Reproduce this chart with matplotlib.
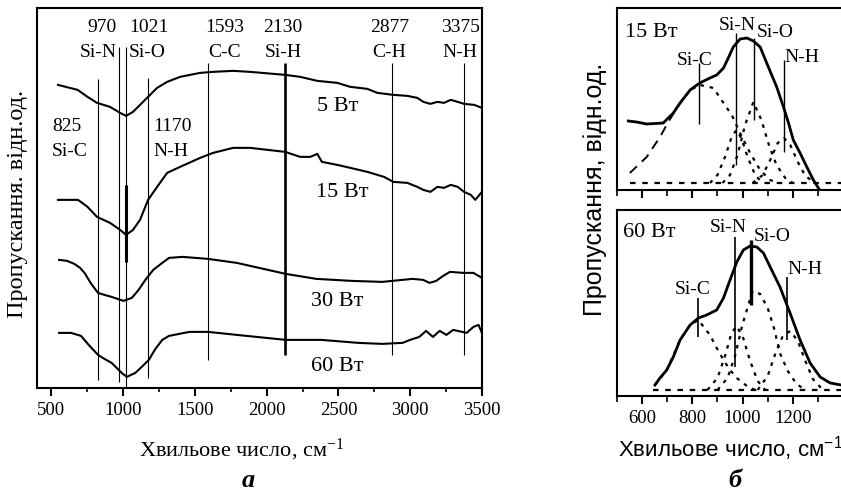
import matplotlib
matplotlib.use("Agg")
import matplotlib.pyplot as plt
from matplotlib.ticker import MultipleLocator

plt.rcParams["font.family"] = ["Liberation Serif", "DejaVu Serif"]
plt.rcParams["mathtext.default"] = "regular"

# ---------- panel a: ИЧ спектри, пропускання (відн. од.)
wn5 = [546, 683, 752, 818, 909, 979, 1021, 1069, 1118, 1174, 1237, 1307, 1397, 1537, 1627,
       1767, 1885, 2129, 2234, 2353, 2492, 2583, 2702, 2771, 2883, 2980, 3050, 3092, 3141,
       3190, 3236, 3283, 3332, 3376, 3446, 3500]
t5 = [3.03, 2.98, 2.91, 2.85, 2.81, 2.75, 2.72, 2.76, 2.83, 2.91, 3.00, 3.06, 3.11, 3.15, 3.16,
      3.17, 3.16, 3.13, 3.11, 3.07, 3.05, 3.01, 2.99, 2.95, 2.93, 2.92, 2.90, 2.86, 2.84,
      2.86, 2.85, 2.88, 2.86, 2.84, 2.83, 2.80]

wn15 = [546, 686, 752, 818, 909, 979, 1021, 1069, 1118, 1174, 1237, 1307, 1397, 1537, 1627,
        1767, 1885, 2129, 2234, 2304, 2353, 2385, 2492, 2583, 2702, 2818, 2883, 2980, 3050,
        3092, 3141, 3190, 3236, 3283, 3332, 3376, 3423, 3454, 3500]
t15 = [1.88, 1.88, 1.81, 1.71, 1.65, 1.58, 1.53, 1.58, 1.68, 1.88, 2.01, 2.15, 2.21, 2.30, 2.35,
       2.40, 2.40, 2.36, 2.31, 2.31, 2.34, 2.26, 2.23, 2.20, 2.16, 2.11, 2.06, 2.05, 2.01,
       1.98, 1.96, 2.01, 2.00, 2.03, 2.01, 1.96, 1.93, 1.88, 1.96]

wn30 = [554, 610, 660, 700, 731, 778, 825, 870, 920, 1002, 1061, 1108, 1155, 1210, 1273, 1320,
        1414, 1591, 1792, 2133, 2346, 2593, 2805, 2876, 3017, 3090, 3135, 3182, 3230, 3277,
        3371, 3441, 3500]
t30 = [1.28, 1.27, 1.24, 1.20, 1.15, 1.04, 0.95, 0.93, 0.91, 0.87, 0.90, 0.98, 1.08, 1.18, 1.25,
       1.30, 1.31, 1.29, 1.25, 1.14, 1.09, 1.07, 1.06, 1.07, 1.09, 1.08, 1.05, 1.07, 1.12, 1.16,
       1.15, 1.15, 1.10]

wn60 = [554, 637, 707, 760, 825, 870, 920, 990, 1026, 1085, 1130, 1179, 1225, 1273, 1320, 1462,
        1591, 1792, 2133, 2381, 2640, 2805, 2947, 3000, 3064, 3111, 3159, 3206, 3253, 3300, 3394,
        3441, 3477, 3500]
t60 = [0.55, 0.55, 0.52, 0.43, 0.33, 0.29, 0.25, 0.15, 0.11, 0.15, 0.21, 0.28, 0.39, 0.48, 0.52,
       0.56, 0.56, 0.53, 0.48, 0.48, 0.45, 0.44, 0.45, 0.48, 0.51, 0.57, 0.51, 0.57, 0.53, 0.58,
       0.55, 0.61, 0.63, 0.55]

power_labels = ["5 Вт", "15 Вт", "30 Вт", "60 Вт"]
power_x = [2492, 2527, 2492, 2492]
power_y = [2.81, 1.95, 0.86, 0.21]

# смуги поглинання
band_wn = [825, 970, 1021, 1170, 1593, 2130, 2877, 3375]
band_top = [3.09, 3.41, 3.41, 3.10, 3.25, 3.25, 3.25, 3.25]
band_bot = [0.08, 0.06, 0.01, 0.10, 0.28, 0.33, 0.33, 0.33]
band_num = ["825", "970", "1021", "1170", "1593", "2130", "2877", "3375"]
band_name = ["Si-C", "Si-N", "Si-O", "N-H", "C-C", "Si-H", "C-H", "N-H"]
band_tx = [505, 955, 1040, 1209, 1705, 2115, 2855, 3350]
band_ty = [2.61, 3.60, 3.60, 2.61, 3.60, 3.60, 3.60, 3.60]
band_ha = ["left", "right", "left", "left", "center", "center", "center", "center"]

# ---------- panel б: розклад смуги 600-1300 см-1
b15_wn = [545, 578, 618, 684, 704, 724, 751, 791, 818, 837, 870, 897, 924, 943, 963, 990, 1017,
          1043, 1070, 1096, 1136, 1163, 1183, 1202, 1229, 1256, 1282, 1302, 1316]
b15 = [0.69, 0.68, 0.66, 0.67, 0.72, 0.77, 0.87, 1.00, 1.05, 1.08, 1.12, 1.15, 1.22, 1.32, 1.43,
       1.51, 1.52, 1.49, 1.43, 1.27, 1.03, 0.83, 0.67, 0.50, 0.37, 0.23, 0.10, 0.02, -0.03]
sic15_wn = [551, 618, 671, 704, 751, 791, 831, 884, 924, 957, 990, 1030, 1070, 1110, 1140]
sic15 = [0.17, 0.33, 0.53, 0.68, 0.87, 1.00, 1.05, 1.02, 0.87, 0.75, 0.57, 0.37, 0.20, 0.10, 0.07]
sin15_wn = [870, 900, 930, 955, 975, 995, 1020, 1050, 1080]
sin15 = [0.07, 0.15, 0.33, 0.52, 0.60, 0.52, 0.33, 0.15, 0.07]
sio15_wn = [920, 950, 980, 1010, 1043, 1075, 1105, 1135, 1170, 1200]
sio15 = [0.07, 0.15, 0.35, 0.65, 0.88, 0.70, 0.45, 0.25, 0.12, 0.07]
nh15_wn = [1040, 1080, 1110, 1140, 1165, 1190, 1220, 1250, 1290]
nh15 = [0.07, 0.15, 0.30, 0.47, 0.52, 0.45, 0.28, 0.14, 0.07]
base15 = 0.07

b60_wn = [651, 671, 698, 724, 751, 791, 824, 857, 897, 924, 950, 977, 1003, 1030, 1057, 1083,
          1110, 1149, 1189, 1229, 1269, 1309, 1349, 1392]
b60 = [0.11, 0.18, 0.26, 0.39, 0.56, 0.71, 0.78, 0.81, 0.86, 0.98, 1.16, 1.34, 1.46, 1.50, 1.49,
       1.43, 1.29, 1.09, 0.83, 0.56, 0.33, 0.19, 0.13, 0.11]
sic60_wn = [651, 698, 751, 791, 824, 870, 897, 924, 950, 977, 1017, 1050]
sic60 = [0.11, 0.26, 0.56, 0.71, 0.76, 0.61, 0.48, 0.36, 0.26, 0.18, 0.10, 0.06]
sin60_wn = [860, 900, 930, 955, 975, 1000, 1030, 1060, 1090]
sin60 = [0.06, 0.18, 0.40, 0.62, 0.70, 0.60, 0.35, 0.15, 0.06]
sio60_wn = [900, 940, 970, 1000, 1040, 1070, 1100, 1125, 1150, 1180, 1215, 1250]
sio60 = [0.06, 0.18, 0.40, 0.72, 1.05, 1.02, 0.88, 0.68, 0.42, 0.25, 0.12, 0.06]
nh60_wn = [1060, 1100, 1130, 1160, 1190, 1220, 1250, 1280, 1320]
nh60 = [0.06, 0.20, 0.42, 0.60, 0.65, 0.55, 0.35, 0.17, 0.06]
base60 = 0.06

fig = plt.figure(figsize=(8.41, 4.91), dpi=100)

# ===== a =====
ax = fig.add_axes([0.044, 0.210, 0.529, 0.774])
for w, t in [(wn5, t5), (wn15, t15), (wn30, t30), (wn60, t60)]:
    ax.plot(w, t, color="black", lw=1.5)
for i in range(len(band_wn)):
    lw = 1.9 if band_num[i] == "2130" else 0.8
    ax.vlines(band_wn[i], band_bot[i], band_top[i], color="black", lw=lw)
    ax.text(band_tx[i], band_ty[i], band_num[i], ha=band_ha[i], va="center", fontsize=14)
    ax.text(band_tx[i], band_ty[i] - 0.25, band_name[i], ha=band_ha[i], va="center", fontsize=14)
# товстий відрізок лінії Si-O
ax.vlines(1021, 1.26, 2.03, color="black", lw=2.2)
for lab, x, y in zip(power_labels, power_x, power_y):
    ax.text(x, y, lab, ha="center", va="center", fontsize=16)

ax.set_xlim(400, 3500)
ax.set_ylim(0, 3.80)
ax.set_yticks([])
ax.xaxis.set_major_locator(MultipleLocator(500))
ax.xaxis.set_minor_locator(MultipleLocator(250))
ax.tick_params(axis="x", which="major", direction="out", length=6, width=1.5, labelsize=13.5, pad=4)
ax.tick_params(axis="x", which="minor", direction="out", length=3, width=1.2)
for s in ax.spines.values():
    s.set_linewidth(1.5)

fig.text(0.021, 0.585, "Пропускання. відн.од.", rotation=90, ha="center", va="center", fontsize=17.5)
fig.text(0.287, 0.07, "Хвильове число, см$^{-1}$", ha="center", va="baseline", fontsize=16)
fig.text(0.295, 0.022, "а", ha="center", va="center", fontsize=19, style="italic", fontweight="bold")

# ===== б =====
ax1 = fig.add_axes([0.7337, 0.6130, 0.2663, 0.3707])
ax2 = fig.add_axes([0.7337, 0.1935, 0.2663, 0.3788])

dot = (0, (1.6, 2.6))
ax1.plot(b15_wn, b15, color="black", lw=2.0)
ax1.plot(sic15_wn[:5], sic15[:5], color="black", lw=1.4, ls=(0, (5, 3.5)))
ax1.plot(sic15_wn[4:], sic15[4:], color="black", lw=1.6, ls=dot)
for w, v in [(sin15_wn, sin15), (sio15_wn, sio15), (nh15_wn, nh15)]:
    ax1.plot(w, v, color="black", lw=1.6, ls=dot)
ax1.axhline(base15, xmin=0.06, color="black", lw=1.6, ls=(0, (2.5, 3)))

ax2.plot(b60_wn, b60, color="black", lw=2.0)
for w, v in [(sic60_wn, sic60), (sin60_wn, sin60), (sio60_wn, sio60), (nh60_wn, nh60)]:
    ax2.plot(w, v, color="black", lw=1.6, ls=dot)
ax2.axhline(base60, xmin=0.16, color="black", lw=1.6, ls=(0, (2.5, 3)))

# лінії та підписи смуг
ax1.vlines([825, 975, 1045, 1163], [0.66, 0.25, 0.70, 0.38], [1.27, 1.57, 1.52, 1.30],
           color="black", lw=1.0)
ax1.text(532, 1.58, "15 Вт", ha="left", va="center", fontsize=16)
ax1.text(811, 1.30, "Si-C", ha="center", va="center", fontsize=14)
ax1.text(978, 1.65, "Si-N", ha="center", va="center", fontsize=14)
ax1.text(1129, 1.58, "Si-O", ha="center", va="center", fontsize=14)
ax1.text(1237, 1.33, "N-H", ha="center", va="center", fontsize=14)

ax2.vlines([823, 970, 1177], [0.59, 0.29, 0.56], [0.98, 1.59, 1.19], color="black", lw=1.2)
ax2.vlines(1034, 0.91, 1.56, color="black", lw=2.4)
ax2.text(524, 1.63, "60 Вт", ha="left", va="center", fontsize=16)
ax2.text(803, 1.06, "Si-C", ha="center", va="center", fontsize=14)
ax2.text(942, 1.68, "Si-N", ha="center", va="center", fontsize=14)
ax2.text(1118, 1.59, "Si-O", ha="center", va="center", fontsize=14)
ax2.text(1249, 1.26, "N-H", ha="center", va="center", fontsize=14)

for a_, top in [(ax1, 1.82), (ax2, 1.86)]:
    a_.set_xlim(500, 1392)
    a_.set_ylim(0, top)
    a_.set_yticks([])
    a_.xaxis.set_major_locator(MultipleLocator(200))
    a_.xaxis.set_minor_locator(MultipleLocator(100))
    a_.tick_params(axis="x", which="major", direction="out", length=6, width=1.5, labelsize=13.5, pad=4)
    a_.tick_params(axis="x", which="minor", direction="out", length=4, width=1.2)
    a_.spines["right"].set_visible(False)
    for s in ["left", "top", "bottom"]:
        a_.spines[s].set_linewidth(1.5)
ax1.tick_params(axis="x", labelbottom=False)

fig.text(0.707, 0.615, "Пропускання, відн.од.", rotation=90, ha="center", va="center",
         fontsize=18, family=["Liberation Sans", "DejaVu Sans"])
fig.text(0.868, 0.07, "Хвильове число, см$^{-1}$", ha="center", va="baseline",
         fontsize=16, family=["Liberation Sans", "DejaVu Sans"])
fig.text(0.874, 0.022, "б", ha="center", va="center", fontsize=19, style="italic", fontweight="bold")

fig.savefig("out.png", dpi=100)
